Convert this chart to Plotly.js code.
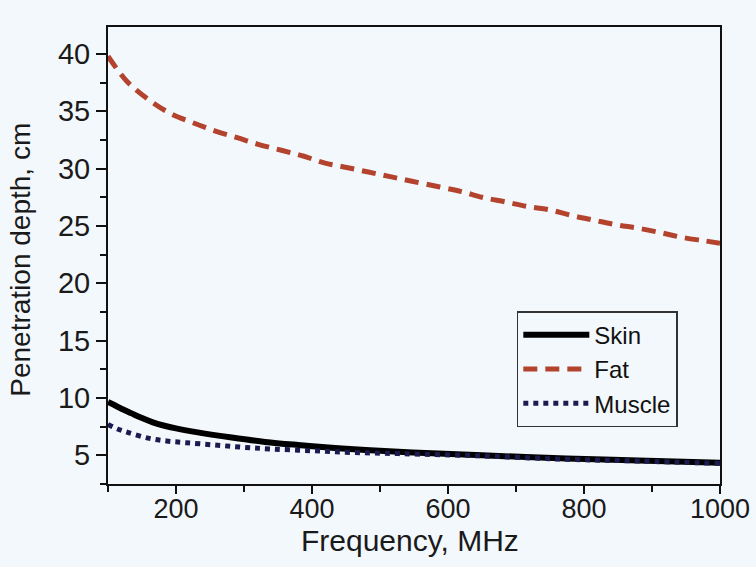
<!DOCTYPE html>
<html>
<head>
<meta charset="utf-8">
<script src="https://cdn.plot.ly/plotly-3.0.1.min.js"></script>
<style>html,body{margin:0;padding:0;background:#f3f8fc;}</style>
</head>
<body>
<div id="chart" style="width:756px;height:567px;"></div>
<script>
// Frequency (MHz) and penetration depth (cm)
const freqFat = [100, 128, 160, 192, 225, 257, 290, 322, 355, 387, 418, 451, 483, 515, 547, 588, 620, 650, 684, 717, 750, 783, 815, 848, 880, 914, 945, 978, 1000];
const fatDepth = [39.8, 37.6, 36.0, 34.8, 34.0, 33.3, 32.7, 32.1, 31.6, 31.1, 30.5, 30.1, 29.7, 29.3, 28.9, 28.4, 28.0, 27.5, 27.1, 26.7, 26.4, 25.9, 25.5, 25.1, 24.8, 24.4, 24.0, 23.7, 23.5];

const freqSkin = [100, 117, 134, 150, 166, 183, 200, 232, 282, 331, 380, 429, 479, 548, 650, 774, 880, 1000];
const skinDepth = [9.65, 9.15, 8.68, 8.25, 7.88, 7.58, 7.35, 7.0, 6.55, 6.17, 5.9, 5.67, 5.47, 5.25, 5.0, 4.72, 4.55, 4.35];

const freqMuscle = [100, 114, 129, 159, 186, 215, 257, 299, 341, 400, 459, 528, 650, 774, 880, 1000];
const muscleDepth = [7.7, 7.3, 7.0, 6.5, 6.25, 6.1, 5.9, 5.7, 5.55, 5.4, 5.25, 5.15, 4.95, 4.65, 4.5, 4.3];

const seriesNames = ["Skin", "Fat", "Muscle"];
const xTitle = "Frequency, MHz";
const yTitle = "Penetration depth, cm";
const xTickVals = [200, 400, 600, 800, 1000];
const yTickVals = [5, 10, 15, 20, 25, 30, 35, 40];

const FONT = "Liberation Sans, Arial, Helvetica, sans-serif";

const traces = [
  {x: freqSkin, y: skinDepth, name: seriesNames[0], mode: "lines",
   line: {color: "#000000", width: 6, shape: "spline"}},
  {x: freqFat, y: fatDepth, name: seriesNames[1], mode: "lines",
   line: {color: "#b3432d", width: 5, dash: "14px,8px", shape: "spline"}},
  {x: freqMuscle, y: muscleDepth, name: seriesNames[2], mode: "lines",
   line: {color: "#1b1b50", width: 5, dash: "dot", shape: "spline"}}
];

const axisCommon = {
  showline: true, linecolor: "#111", linewidth: 2, mirror: true,
  ticks: "outside", tickcolor: "#111", tickwidth: 2,
  showgrid: false, zeroline: false
};

const layout = {
  width: 756, height: 567,
  paper_bgcolor: "#f3f8fc", plot_bgcolor: "#f3f8fc",
  margin: {l: 108, r: 36, t: 27, b: 83},
  showlegend: true,
  xaxis: Object.assign({}, axisCommon, {
    range: [100, 1000], tickvals: xTickVals, ticklen: 8, ticklabelstandoff: -8,
    tickfont: {family: FONT, size: 27, color: "#1a1a1a"},
    minor: {tickvals: [100, 300, 500, 700, 900], ticks: "outside", ticklen: 6, tickcolor: "#111", tickwidth: 2}
  }),
  yaxis: Object.assign({}, axisCommon, {
    range: [2.5, 42.35], tickvals: yTickVals, ticklen: 10,
    tickfont: {family: FONT, size: 29, color: "#1a1a1a"},
    minor: {dtick: 2.5, ticks: "outside", ticklen: 6, tickcolor: "#111", tickwidth: 2}
  }),
  annotations: [
    {text: xTitle, xref: "paper", yref: "paper", x: 0.4935, y: -0.123,
     xanchor: "center", yanchor: "middle", showarrow: false,
     font: {family: FONT, size: 30, color: "#1a1a1a"}},
    {text: yTitle, xref: "paper", yref: "paper", x: -0.142, y: 0.491,
     xanchor: "center", yanchor: "middle", textangle: -90, showarrow: false,
     font: {family: FONT, size: 28, color: "#1a1a1a"}}
  ],
  legend: {
    x: 0.668, y: 0.378, xanchor: "left", yanchor: "top",
    bgcolor: "#f3f8fc", bordercolor: "#333", borderwidth: 1.5,
    font: {family: FONT, size: 24, color: "#111"},
    itemwidth: 66, tracegroupgap: 0
  }
};

Plotly.newPlot("chart", traces, layout, {displayModeBar: false, staticPlot: true});
</script>
</body>
</html>
